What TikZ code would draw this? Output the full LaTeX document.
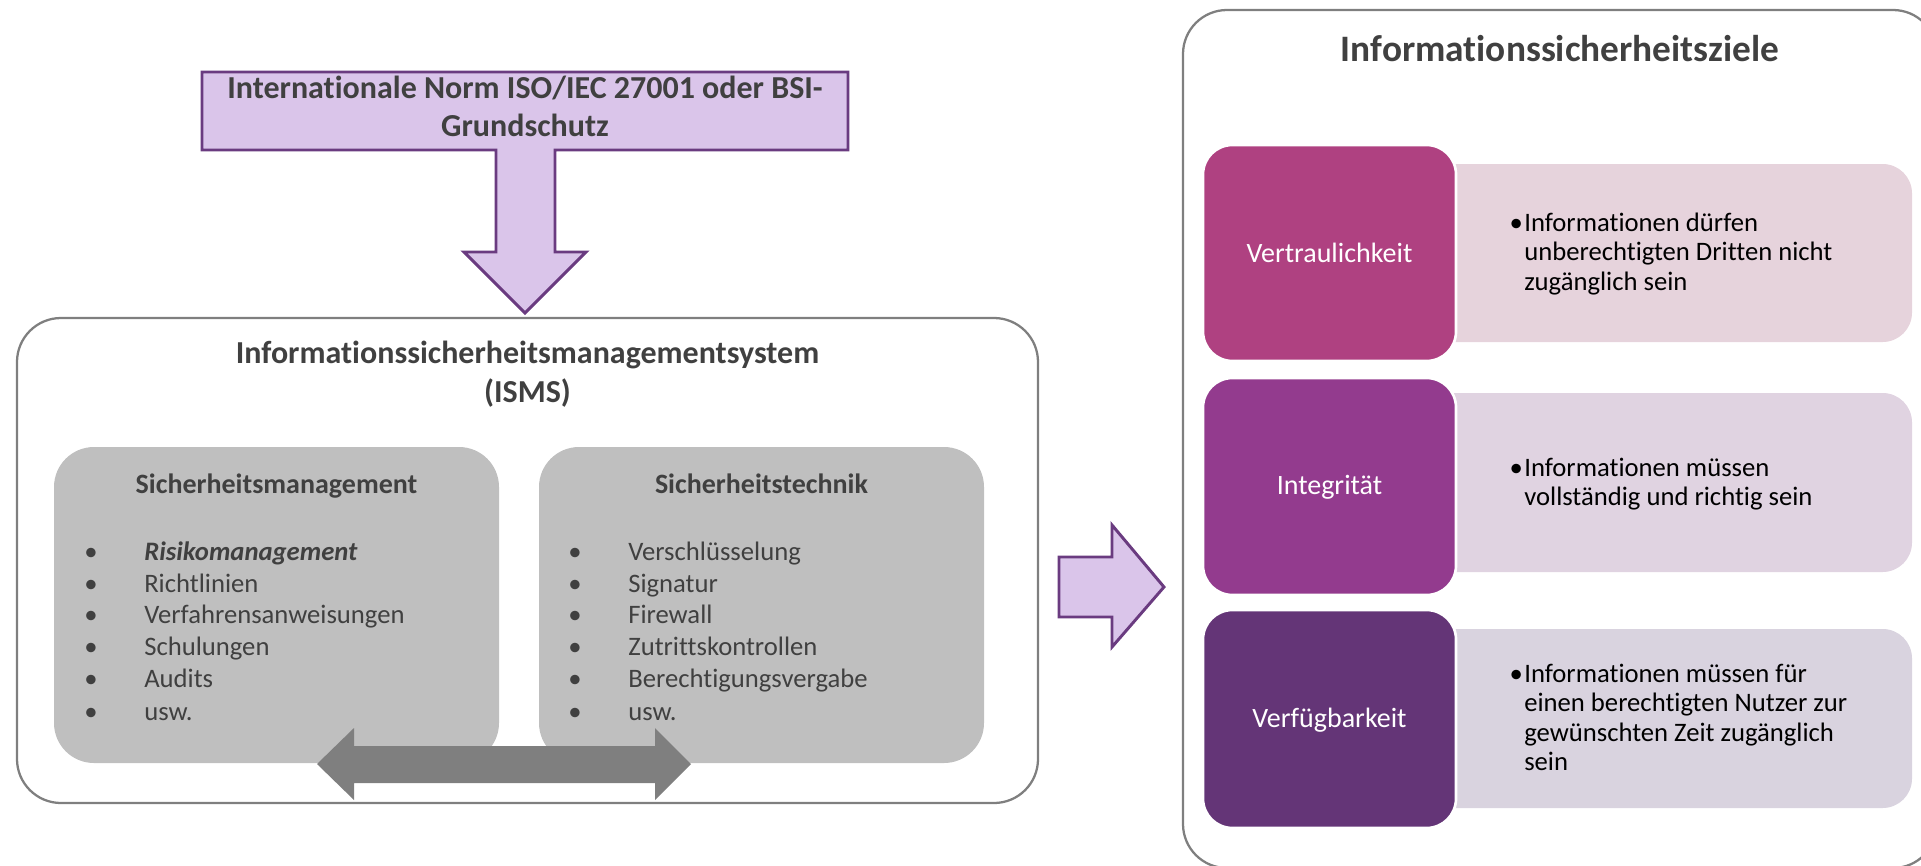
\documentclass[tikz,border=0pt]{standalone}
\usepackage{fontspec}
\setmainfont{Carlito}[Ligatures=NoCommon]
\definecolor{txtgray}{HTML}{404040}
\definecolor{framegray}{HTML}{7F7F7F}
\definecolor{boxgray}{HTML}{BFBFBF}
\definecolor{arrowgray}{HTML}{7F7F7F}
\definecolor{lavender}{HTML}{DAC5EA}
\definecolor{plum}{HTML}{6A3B80}
\definecolor{vtr}{HTML}{AF4181}
\definecolor{intg}{HTML}{933B8E}
\definecolor{vfg}{HTML}{643577}
\definecolor{vtrL}{HTML}{E6D3DC}
\definecolor{intgL}{HTML}{E0D3E1}
\definecolor{vfgL}{HTML}{D9D3DF}
\newcommand{\bigbold}{\fontsize{24pt}{29pt}\selectfont\bfseries}
\newcommand{\headfont}{\fontsize{21pt}{25pt}\selectfont\bfseries}
\newcommand{\listfont}{\fontsize{20pt}{24pt}\selectfont}
\newcommand{\goalfont}{\fontsize{21pt}{25pt}\selectfont}
\newcommand{\descfont}{\fontsize{20pt}{22pt}\selectfont}
\newcommand{\bul}{\llap{•\hspace{35pt}}}
\tikzset{
  frame/.style={draw=framegray, line width=1.7pt, rounded corners=33pt},
  graybox/.style={fill=boxgray, rounded corners=30pt},
  blockarrow/.style={fill=lavender, draw=plum, line width=2.2pt, line join=miter},
  twoway/.style={fill=arrowgray},
  goalbox/.style={draw=white, line width=2pt, rounded corners=22pt},
  desclight/.style={rounded corners=22pt},
  title/.style={inner sep=0pt, anchor=base, text=txtgray, font=\bigbold},
  boxhead/.style={inner sep=0pt, anchor=base, text=txtgray, font=\headfont},
  item/.style={inner sep=0pt, anchor=base west, text=txtgray, font=\listfont},
  goal/.style={inner sep=0pt, anchor=base, text=white, font=\goalfont},
  desc/.style={inner sep=0pt, anchor=base west, text=black, font=\descfont}
}
\begin{document}
\begin{tikzpicture}[x=0.75pt,y=-0.75pt]
\useasboundingbox (0,0) rectangle (1921,865);

% --- left part: standard feeding into the ISMS ---
\draw[blockarrow] (202,72) -- (848,72) -- (848,150) -- (555,150) -- (555,252)
  -- (586,252) -- (525,313) -- (464,252) -- (496,252) -- (496,150) -- (202,150) -- cycle;
\node[title] (norm1) at (525,98) {Internationale Norm ISO/IEC 27001 oder BSI-};
\node[title] (norm2) at (525,136) {Grundschutz};

\draw[frame] (17,318) rectangle (1038,803);
\node[title] (isms1) at (527.5,363) {Informationssicherheitsmanagementsystem};
\node[title] (isms2) at (527.5,402) {(ISMS)};

\fill[graybox] (54,447) rectangle (499,763);
\fill[graybox] (539,447) rectangle (984,763);
\node[boxhead] (smhead) at (276.5,493) {Sicherheitsmanagement};
\node[boxhead] (sthead) at (761.5,493) {Sicherheitstechnik};

\node[item] (sm1) at (144,560) {\bul\textbf{\textit{Risikomanagement}}};
\node[item] (sm2) at (144,592) {\bul Richtlinien};
\node[item] (sm3) at (144,623) {\bul Verfahrensanweisungen};
\node[item] (sm4) at (144,655) {\bul Schulungen};
\node[item] (sm5) at (144,687) {\bul Audits};
\node[item] (sm6) at (144,720) {\bul usw.};

\node[item] (st1) at (628,560) {\bul Verschlüsselung};
\node[item] (st2) at (628,592) {\bul Signatur};
\node[item] (st3) at (628,623) {\bul Firewall};
\node[item] (st4) at (628,655) {\bul Zutrittskontrollen};
\node[item] (st5) at (628,687) {\bul Berechtigungsvergabe};
\node[item] (st6) at (628,720) {\bul usw.};

% two-way arrow between management and technology
\fill[twoway] (317,764) -- (354,728) -- (354,746) -- (655,746) -- (655,728)
  -- (691,764) -- (655,800) -- (655,783) -- (354,783) -- (354,800) -- cycle;

% arrow towards the security goals
\draw[blockarrow] (1059,557) -- (1112,557) -- (1112,525) -- (1164,587)
  -- (1112,647) -- (1112,617) -- (1059,617) -- cycle;

% --- right part: security goals ---
\draw[frame] (1183,10) rectangle (1937,868);
\node[title, font=\fontsize{28pt}{33pt}\selectfont\bfseries] (goals) at (1560,61) {Informationssicherheitsziele};

\fill[vtrL, desclight] (1400,164) rectangle (1912,342);
\fill[intgL, desclight] (1400,393) rectangle (1912,572);
\fill[vfgL, desclight] (1400,629) rectangle (1912,808);

\filldraw[goalbox, fill=vtr] (1203,145) rectangle (1456,361);
\filldraw[goalbox, fill=intg] (1203,378) rectangle (1456,595);
\filldraw[goalbox, fill=vfg] (1203,610) rectangle (1456,828);

\node[goal] (g1) at (1329.5,262) {Vertraulichkeit};
\node[goal] (g2) at (1329.5,494) {Integrität};
\node[goal] (g3) at (1329.5,727) {Verfügbarkeit};

\node[desc] (d11) at (1524,231) {\llap{•\hspace{1pt}}Informationen dürfen};
\node[desc] (d12) at (1524,260.5) {unberechtigten Dritten nicht};
\node[desc] (d13) at (1524,290) {zugänglich sein};

\node[desc] (d21) at (1524,476) {\llap{•\hspace{1pt}}Informationen müssen};
\node[desc] (d22) at (1524,505.5) {vollständig und richtig sein};

\node[desc] (d31) at (1524,682) {\llap{•\hspace{1pt}}Informationen müssen für};
\node[desc] (d32) at (1524,711.5) {einen berechtigten Nutzer zur};
\node[desc] (d33) at (1524,741) {gewünschten Zeit zugänglich};
\node[desc] (d34) at (1524,770.5) {sein};
\end{tikzpicture}
\end{document}
